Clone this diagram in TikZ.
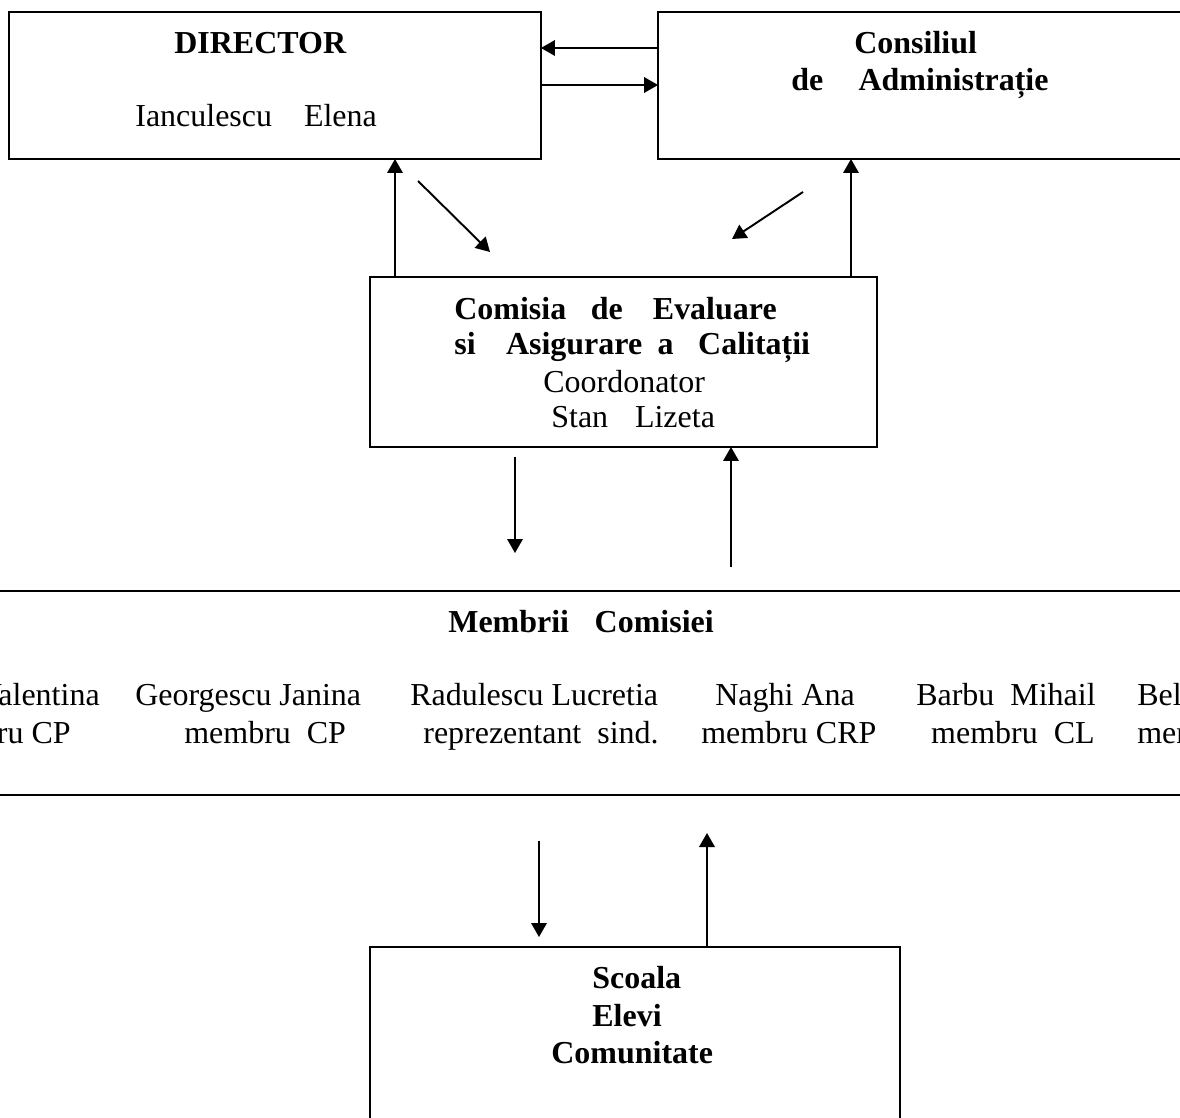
\documentclass[tikz,border=0pt]{standalone}
\usepackage{fontspec}
\setmainfont{Liberation Serif}
\usetikzlibrary{arrows.meta}

\tikzset{
  box/.style={draw, line width=1.2pt, inner sep=0pt, outer sep=0pt},
  arr/.style={-{Triangle[length=0.28cm,width=0.31cm]}, line width=1.1pt},
  txt/.style={inner sep=0pt, anchor=base west},
}

\begin{document}
\begin{tikzpicture}[x=0.02cm, y=-0.02cm, font=\fontsize{18.2}{22}\selectfont]

            \useasboundingbox (0,0) rectangle (1180,1118);
            \clip (0,0) rectangle (1180,1118);

            % boxes
            \node[box, minimum width=10.64cm, minimum height=2.94cm] (director) at (275,85.5) {};
            \node[box, minimum width=10.74cm, minimum height=2.94cm] (consiliul) at (926.5,85.5) {};
            \node[box, minimum width=10.14cm, minimum height=3.4cm] (comisia) at (623.5,362) {};
            \node[box, minimum width=24.4cm, minimum height=4.08cm] (membrii) at (590,693) {};
            \node[box, minimum width=10.6cm, minimum height=3.86cm] (scoala) at (635,1043.5) {};

            % box labels
            \node[txt] (dirtitle) at (174,54) {\bfseries DIRECTOR};
            \node[txt] (dirname) at (135,127) {Ianculescu\quad Elena};

            \node[txt] (constitle) at (854,54) {\bfseries Consiliul};
            \node[txt] (consline) at (791,91) {\bfseries de\hspace{1.1em}Administrație};

            \node[txt] (comline1) at (454,320) {\bfseries Comisia\hspace{0.77em}de\hspace{0.94em}Evaluare};
            \node[txt] (comline2) at (454,355) {\bfseries si\hspace{0.95em}Asigurare\hspace{0.48em}a\hspace{0.77em}Calitații};
            \node[txt] (comcoord) at (543,393) {Coordonator};
            \node[txt] (comname) at (551,428) {Stan\hspace{0.84em}Lizeta};

            \node[txt] (memtitle) at (448,632) {\bfseries Membrii\hspace{0.8em}Comisiei};

            % members
            \node[txt, anchor=base east] (mem1) at (100,705) {Valentina};
            \node[txt, anchor=base east] (role1) at (71,743) {membru CP};
            \node[txt] (mem2) at (135,705) {Georgescu Janina};
            \node[txt] (role2) at (184,743) {membru~ CP};
            \node[txt] (mem3) at (410,705) {Radulescu Lucretia};
            \node[txt] (role3) at (423,743) {reprezentant~ sind.};
            \node[txt] (mem4) at (715,705) {Naghi Ana};
            \node[txt] (role4) at (701,743) {membru CRP};
            \node[txt, anchor=base east] (mem5) at (1096,705) {Barbu\hspace{0.5em}Mihail};
            \node[txt, anchor=base east] (role5) at (1095,743) {membru~ CL};
            \node[txt] (mem6) at (1137,705) {Bel};
            \node[txt] (role6) at (1137,743) {membru};

            \node[txt] (scline1) at (592,988) {\bfseries Scoala};
            \node[txt] (scline2) at (592,1026) {\bfseries Elevi};
            \node[txt] (scline3) at (551,1063) {\bfseries Comunitate};

            % free ends
            \coordinate (dl1) at (418,181);
            \coordinate (dl2) at (490,252);
            \coordinate (dr1) at (803,192);
            \coordinate (dr2) at (732,239);
            \coordinate (down1) at (515,457);
            \coordinate (down2) at (515,553);
            \coordinate (up1) at (731,567);
            \coordinate (down3) at (539,841);
            \coordinate (down4) at (539,937);
            \coordinate (up2) at (707,833);

            % arrows
            \draw[arr] (consiliul.west |- 0,48) -- (director.east |- 0,48);
            \draw[arr] (director.east |- 0,85) -- (consiliul.west |- 0,85);
            \draw[arr] (comisia.north -| 395,0) -- (director.south -| 395,0);
            \draw[arr] (comisia.north -| 851,0) -- (consiliul.south -| 851,0);
            \draw[arr] (dl1) -- (dl2);
            \draw[arr] (dr1) -- (dr2);
            \draw[arr] (down1) -- (down2);
            \draw[arr] (up1) -- (comisia.south -| up1);
            \draw[arr] (down3) -- (down4);
            \draw[arr] (scoala.north -| up2) -- (up2);

        \end{tikzpicture}
\end{document}
